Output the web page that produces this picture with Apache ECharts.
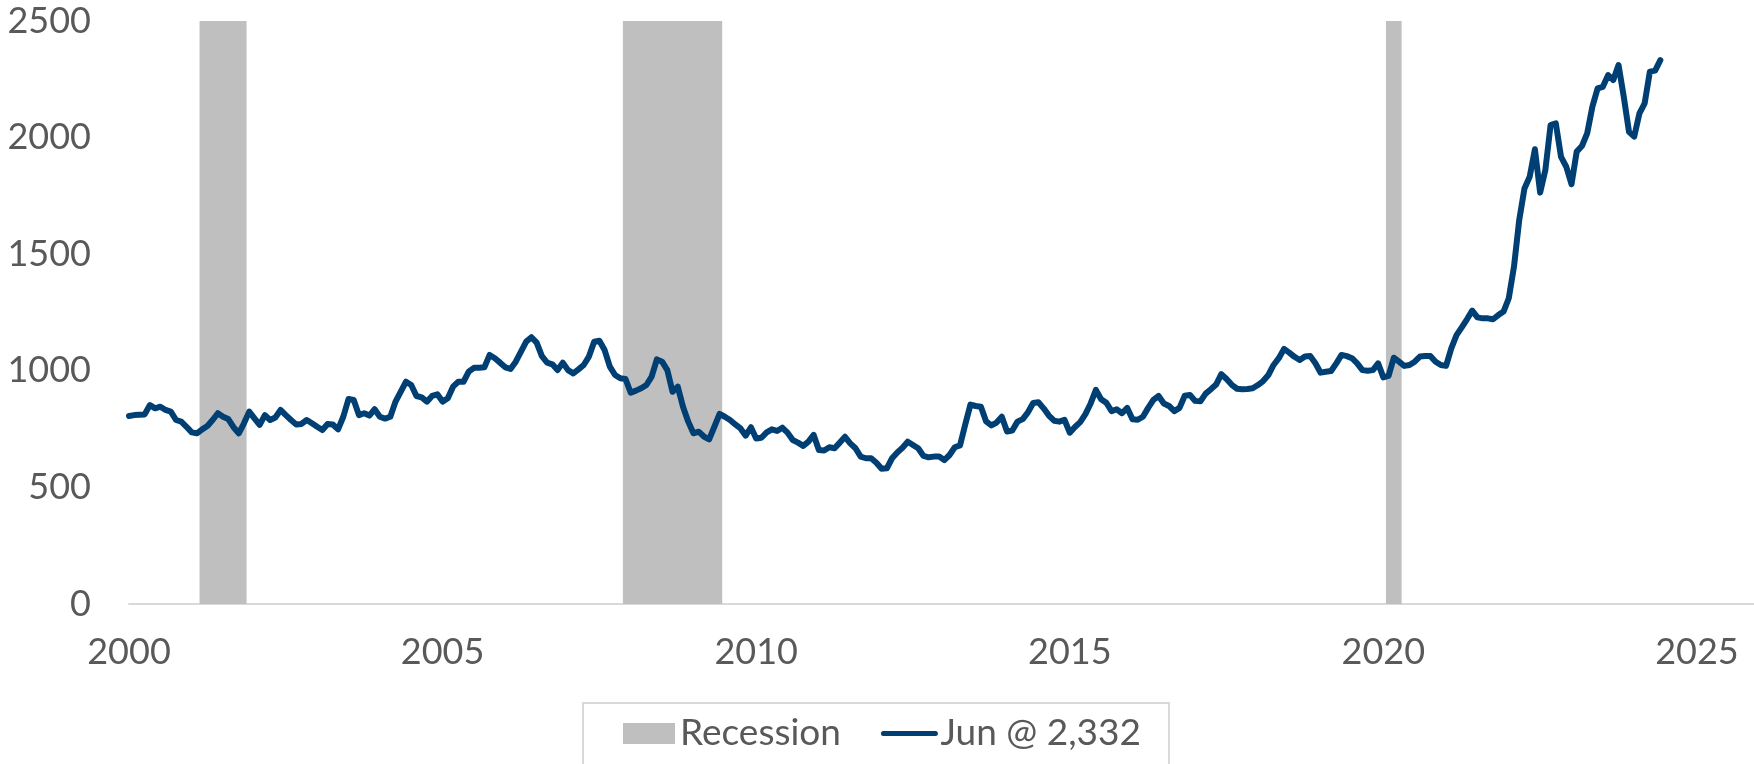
<!DOCTYPE html>
<html>
<head>
<meta charset="utf-8">
<title>Monthly series with recessions</title>
<script src="https://cdn.jsdelivr.net/npm/echarts@6/dist/echarts.min.js"></script>
<style>
    html, body { margin: 0; padding: 0; background: #fff; }
    #chart { width: 1754px; height: 764px; }
</style>
</head>
<body>
<div id="chart"></div>
<script>
// monthly values, Jan 2000 .. Jun 2024 (one row per year)
var startYear = 2000;
var monthlyValues = [
    806, 810, 812, 813, 853, 839, 846, 832, 825, 789, 782, 760,
    736, 732, 749, 763, 789, 818, 803, 793, 758, 732, 775, 825,
    796, 768, 810, 789, 800, 832, 810, 789, 770, 772, 789, 775,
    760, 746, 772, 770, 749, 803, 879, 875, 810, 818, 808, 835,
    803, 795, 803, 868, 911, 953, 939, 892, 886, 868, 892, 899,
    868, 882, 932, 953, 953, 996, 1013, 1013, 1015, 1068, 1054, 1035,
    1015, 1008, 1039, 1082, 1125, 1144, 1121, 1063, 1035, 1028, 1003, 1035,
    1003, 989, 1006, 1025, 1061, 1125, 1129, 1089, 1018, 982, 968, 965,
    906, 915, 925, 939, 975, 1049, 1039, 1003, 910, 932, 846, 782,
    732, 739, 718, 706, 760, 815, 803, 789, 770, 753, 722, 758,
    710, 713, 736, 749, 742, 756, 735, 703, 692, 678, 696, 725,
    660, 658, 672, 668, 692, 717, 689, 668, 632, 625, 625, 606,
    580, 582, 625, 650, 670, 696, 682, 668, 635, 629, 632, 632,
    617, 639, 672, 680, 770, 855, 849, 846, 783, 766, 778, 803,
    740, 744, 782, 793, 822, 862, 865, 839, 808, 786, 782, 790,
    735, 759, 780, 814, 860, 918, 878, 863, 827, 835, 818, 841,
    792, 790, 803, 841, 875, 892, 860, 849, 827, 841, 893, 896,
    871, 869, 902, 921, 941, 986, 965, 940, 923, 921, 922, 925,
    939, 956, 982, 1025, 1054, 1094, 1078, 1060, 1046, 1061, 1063, 1032,
    992, 996, 999, 1032, 1068, 1063, 1054, 1032, 1003, 1000, 1003, 1032,
    972, 978, 1056, 1039, 1021, 1025, 1039, 1061, 1063, 1063, 1039, 1025,
    1021, 1096, 1153, 1186, 1221, 1258, 1229, 1225, 1225, 1221, 1239, 1254,
    1311, 1447, 1647, 1782, 1832, 1950, 1764, 1861, 2054, 2061, 1917, 1875,
    1800, 1940, 1964, 2018, 2133, 2211, 2218, 2268, 2247, 2311, 2175, 2025,
    2004, 2104, 2147, 2283, 2287, 2332
];
// recession months (first / last month)
var recessionStart = ['2001-03', '2007-12', '2020-02'];
var recessionEnd = ['2001-11', '2009-06', '2020-04'];
var yTicks = [0, 500, 1000, 1500, 2000, 2500];
var xTicks = [2000, 2005, 2010, 2015, 2020, 2025];
var lineName = 'Jun @ 2,332';

function monthToYear(s) {
    var p = s.split('-');
    return parseInt(p[0]) + (parseInt(p[1]) - 1) / 12;
}

var lineData = [];
for (var i = 0; i < monthlyValues.length; i++) {
    lineData.push([startYear + i / 12, monthlyValues[i]]);
}

// bars cover whole months, so pad half a month on each side
var areas = [];
for (var i = 0; i < recessionStart.length; i++) {
    areas.push([
        { xAxis: monthToYear(recessionStart[i]) - 0.5 / 12 },
        { xAxis: monthToYear(recessionEnd[i]) + 0.5 / 12 }
    ]);
}

var myChart = echarts.init(document.getElementById('chart'));
var option = {
    animation: false,
    textStyle: { fontFamily: 'Lato' },
    grid: { left: 129, right: 0, top: 21, bottom: 160, containLabel: false },
    xAxis: {
        type: 'value',
        min: xTicks[0],
        max: 2025.91,
        interval: 5,
        axisLine: { lineStyle: { color: '#d9d9d9', width: 2 } },
        axisTick: { show: false },
        splitLine: { show: false },
        axisLabel: {
            fontSize: 36,
            color: '#595959',
            margin: 30,
            showMaxLabel: false,
            formatter: function (v) {
                return xTicks.indexOf(v) >= 0 ? String(v) : '';
            }
        }
    },
    yAxis: {
        type: 'value',
        min: yTicks[0],
        max: yTicks[yTicks.length - 1],
        interval: 500,
        axisLine: { show: false },
        axisTick: { show: false },
        splitLine: { show: false },
        axisLabel: {
            fontSize: 36,
            color: '#595959',
            margin: 38,
            formatter: function (v) { return String(v); }
        }
    },
    legend: {
        left: 583,
        top: 703,
        padding: [12, 28, 14, 40],
        itemWidth: 52,
        itemHeight: 21,
        itemGap: 40,
        borderColor: '#d9d9d9',
        borderWidth: 2,
        textStyle: { fontSize: 37, color: '#595959', fontFamily: 'Lato' },
        data: [
            { name: 'Recession', icon: 'rect' },
            {
                name: lineName,
                itemStyle: { opacity: 0 },
                lineStyle: { width: 5, cap: 'round', color: '#003f73' }
            }
        ]
    },
    series: [
        {
            name: 'Recession',
            type: 'line',
            data: [],
            z: 1,
            color: '#bfbfbf',
            itemStyle: { color: '#bfbfbf' },
            markArea: {
                silent: true,
                itemStyle: { color: '#bfbfbf' },
                data: areas
            }
        },
        {
            name: lineName,
            type: 'line',
            z: 3,
            data: lineData,
            symbol: 'none',
            color: '#003f73',
            lineStyle: { color: '#003f73', width: 6, cap: 'round', join: 'round' }
        }
    ]
};
myChart.setOption(option);
</script>
</body>
</html>
